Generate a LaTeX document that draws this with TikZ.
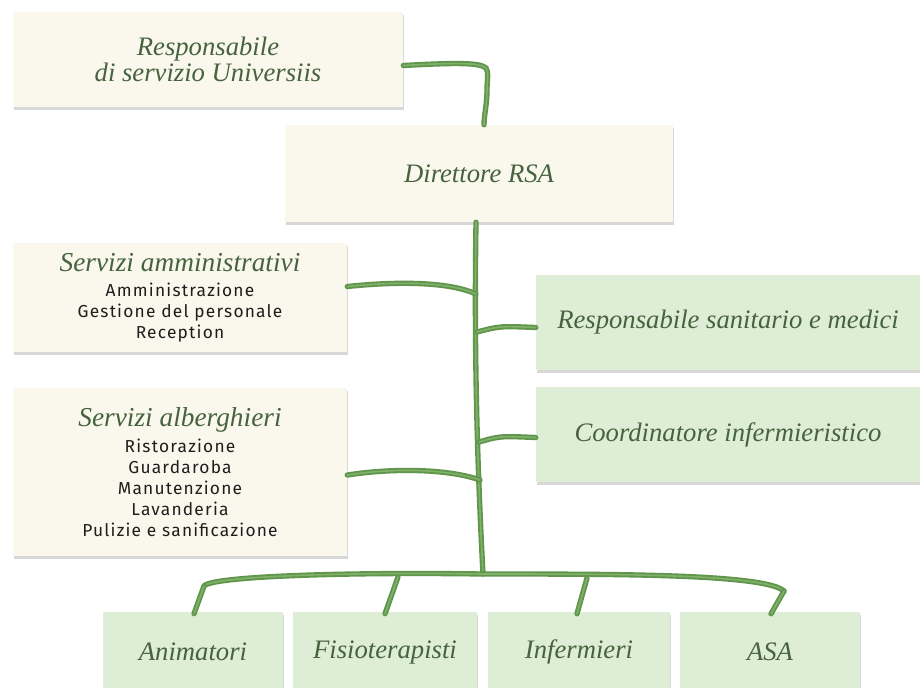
\documentclass[tikz,border=0pt]{standalone}
\usepackage{fontspec}
\setmainfont{Liberation Serif}
\setsansfont{Fira Sans}[LetterSpace=7]
\usetikzlibrary{shadows,calc}
\definecolor{cream}{RGB}{250,248,236}
\definecolor{mint}{RGB}{222,238,214}
\definecolor{leaf}{RGB}{96,150,76}
\definecolor{leafl}{RGB}{150,196,126}
\definecolor{txt}{RGB}{70,98,62}
\definecolor{subtxt}{RGB}{30,30,30}
\tikzset{
  box/.style={rectangle, inner sep=0pt, align=center, text=txt,
    font=\itshape\fontsize{20}{20}\selectfont,
    drop shadow={shadow xshift=1pt, shadow yshift=-2.5pt, opacity=0.25, fill=black!60}},
  cbox/.style={box, fill=cream},
  gbox/.style={box, fill=mint},
  listbox/.style={cbox, text=subtxt, font=\sffamily\fontsize{13}{15.75}\selectfont},
  branch/.style={draw=leaf, line width=4pt, line cap=round,
    postaction={draw=leafl, line width=1.2pt, opacity=0.6}}
}
\newcommand\ttl[1]{{\color{txt}\rmfamily\itshape\fontsize{20.5}{20}\selectfont #1}}
\begin{document}
\begin{tikzpicture}[x=0.75pt,y=-0.75pt]
\useasboundingbox (0,0) rectangle (920,687);
\fill[white] (0,0) rectangle (920,687);
% boxes
\node[cbox, minimum width=292.5pt, minimum height=71.25pt] (resp) at (208,59.5) {Responsabile\\di servizio Universiis};
\node[cbox, minimum width=291pt, minimum height=72.75pt] (dir) at (479,173.5) {Direttore RSA};
\node[listbox, minimum width=250.5pt, minimum height=81.75pt] (amm) at (180,297.5)
  {\ttl{Servizi amministrativi}\\[3pt]Amministrazione\\Gestione del personale\\Reception};
\node[listbox, minimum width=250.5pt, minimum height=126pt] (alb) at (180,472)
  {\ttl{Servizi alberghieri}\\[4pt]Ristorazione\\Guardaroba\\Manutenzione\\Lavanderia\\Pulizie e sanificazione};
\node[gbox, minimum width=288pt, minimum height=71.25pt] (san) at (728,322.5) {Responsabile sanitario e medici};
\node[gbox, minimum width=288pt, minimum height=71.25pt] (coo) at (728,434.5) {Coordinatore infermieristico};
\node[gbox, minimum width=135pt, minimum height=60pt] (ani) at (193,652) {Animatori};
\node[gbox, minimum width=138pt, minimum height=60pt] (fis) at (385,652) {Fisioterapisti};
\node[gbox, minimum width=136.5pt, minimum height=60pt] (inf) at (579,652) {Infermieri};
\node[gbox, minimum width=135pt, minimum height=60pt] (asa) at (770,652) {ASA};
% connector points
\coordinate (hub) at (483,574);
\coordinate (jA) at (476,294);
\coordinate (jS) at (477,332);
\coordinate (jC) at (479,442);
\coordinate (jB) at (480,480);
\coordinate (bl) at (204,586);
\coordinate (bf) at (398,577);
\coordinate (bi) at (587,578);
\coordinate (br) at (784,591);
% connectors
\draw[branch] ($(resp.east)+(0,6)$) .. controls (450,63) and (480,62) .. (486,68) .. controls (489,72) and (487,80) .. (487,90) .. controls (487,105) and (484,115) .. ($(dir.north)+(5,0)$);
\draw[branch] ($(dir.south)+(-3,0)$) .. controls (474,350) and (477,460) .. (hub);
\draw[branch] ($(amm.east)+(0,-11)$) .. controls (400,281) and (450,282) .. (jA);
\draw[branch] (jS) .. controls (500,326) .. ($(san.west)+(0,5)$);
\draw[branch] (jC) .. controls (500,436) .. ($(coo.west)+(0,3)$);
\draw[branch] ($(alb.east)+(0,3)$) .. controls (400,467) and (452,470) .. (jB);
\draw[branch] (bl) .. controls (212,576) and (350,572) .. (hub) .. controls (620,574) and (765,574) .. (br);
\draw[branch] (bl) -- ($(ani.north)+(1,2)$);
\draw[branch] (bf) -- ($(fis.north)+(0,2)$);
\draw[branch] (bi) -- ($(inf.north)+(-2,2)$);
\draw[branch] (br) -- ($(asa.north)+(1,2)$);
\end{tikzpicture}
\end{document}
